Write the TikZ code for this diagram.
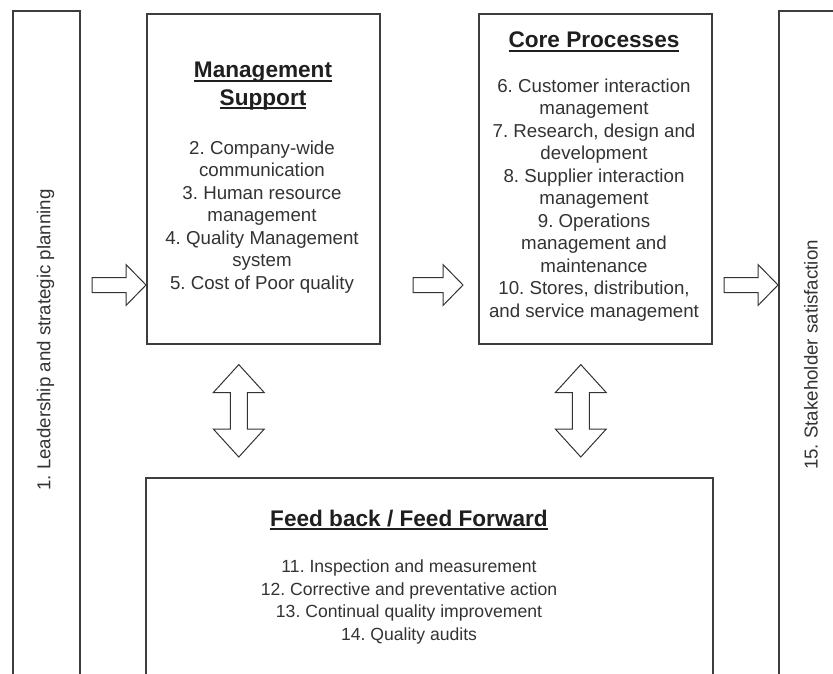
\documentclass[tikz,border=0pt]{standalone}
\usepackage{fontspec}
\setmainfont{Liberation Sans}
\usetikzlibrary{calc}

\definecolor{ink}{rgb}{0.2,0.2,0.2}
\definecolor{headink}{rgb}{0.12,0.12,0.12}
\definecolor{frame}{rgb}{0.24,0.24,0.24}

% heading text with a rule just under the baseline
\newcommand\headline[1]{\setbox0=\hbox{#1}\rlap{\rule[-0.17em]{\wd0}{0.075em}}\box0}

% right-pointing block arrow from tail #1 to tip #2
\newcommand\rightblock[2]{%
  \draw[blockarrow] ($(#1)+(0,-7.5)$) -- ($(#2)+(-20,-7.5)$) -- ($(#2)+(-20,-20.5)$)
    -- (#2) -- ($(#2)+(-20,20.5)$) -- ($(#2)+(-20,7.5)$) -- ($(#1)+(0,7.5)$) -- cycle;}

% vertical double-headed block arrow between tips #1 (top) and #2 (bottom)
\newcommand\updownblock[2]{%
  \draw[blockarrow] (#1) -- ($(#1)+(25.5,28)$) -- ($(#1)+(8.5,28)$)
    -- ($(#2)+(8.5,-28)$) -- ($(#2)+(25.5,-28)$) -- (#2)
    -- ($(#2)+(-25.5,-28)$) -- ($(#2)+(-8.5,-28)$)
    -- ($(#1)+(-8.5,28)$) -- ($(#1)+(-25.5,28)$) -- cycle;}

\frenchspacing

\begin{document}
\begin{tikzpicture}[x=1pt,y=-1pt,
  panel/.style={draw=frame, line width=1.6pt, fill=white, inner sep=0pt, anchor=north west},
  itemtext/.style={text=ink, align=center, inner sep=0pt,
    font=\fontsize{18.7}{22.5}\selectfont},
  feedtext/.style={text=ink, align=center, inner sep=0pt,
    font=\fontsize{17.6}{22.6}\selectfont},
  headtext/.style={text=headink, align=center, inner sep=0pt,
    font=\fontsize{22.6}{27.5}\selectfont\bfseries},
  blockarrow/.style={draw=black!80, line width=1pt, fill=white, line join=miter}]
\useasboundingbox (0,0) rectangle (833,673);
\clip (0,0) rectangle (833,673);

% frames
\node[panel, minimum width=67pt,  minimum height=720pt] (lead)  at (12,10)  {};
\node[panel, minimum width=233pt, minimum height=330pt] (mgmt)  at (146,13) {};
\node[panel, minimum width=233pt, minimum height=330pt] (core)  at (478,13) {};
\node[panel, minimum width=67pt,  minimum height=720pt] (stake) at (778,10) {};
\node[panel, minimum width=567pt, minimum height=260pt] (feed)  at (145,477) {};

% side labels
\node[itemtext, rotate=90] (leadlabel)  at (45.5,340) {1. Leadership and strategic planning};
\node[itemtext, rotate=90] (stakelabel) at (811,355)  {15. Stakeholder satisfaction};

% management support
\node[headtext] (mgmthead) at (263,86) {\headline{Management}\\\headline{Support}};
\node[itemtext] (mgmtlist) at (262,217) {2. Company-wide\\communication\\3. Human resource\\management\\4. Quality Management\\system\\5. Cost of Poor quality};

% core processes
\node[headtext] (corehead) at (594,42) {\headline{Core Processes}};
\node[itemtext] (corelist) at (594,200) {6. Customer interaction\\management\\7. Research, design and\\development\\8. Supplier interaction\\management\\9. Operations\\management and\\maintenance\\10. Stores, distribution,\\and service management};

% feed back / feed forward
\node[headtext] (feedhead) at (409,520) {\headline{Feed back / Feed Forward}};
\node[feedtext] (feedlist) at (409,602) {11. Inspection and measurement\\12. Corrective and preventative action\\13. Continual quality improvement\\14. Quality audits};

% flow arrows
\coordinate (a1tail) at (92,285);
\coordinate (a1tip)  at (mgmt.west |- a1tail);
\coordinate (a2tail) at (413,285);
\coordinate (a2tip)  at ($(core.west |- a2tail)+(-15,0)$);
\coordinate (a3tail) at (724,285);
\coordinate (a3tip)  at (stake.west |- a3tail);
\rightblock{a1tail}{a1tip}
\rightblock{a2tail}{a2tip}
\rightblock{a3tail}{a3tip}

% exchange arrows with the feedback frame
\coordinate (v1top) at ($(mgmt.south)+(-24.5,20)$);
\coordinate (v1bot) at ($(feed.north -| v1top)+(0,-20)$);
\coordinate (v2top) at ($(core.south)+(-14.5,20)$);
\coordinate (v2bot) at ($(feed.north -| v2top)+(0,-20)$);
\updownblock{v1top}{v1bot}
\updownblock{v2top}{v2bot}
\end{tikzpicture}
\end{document}
